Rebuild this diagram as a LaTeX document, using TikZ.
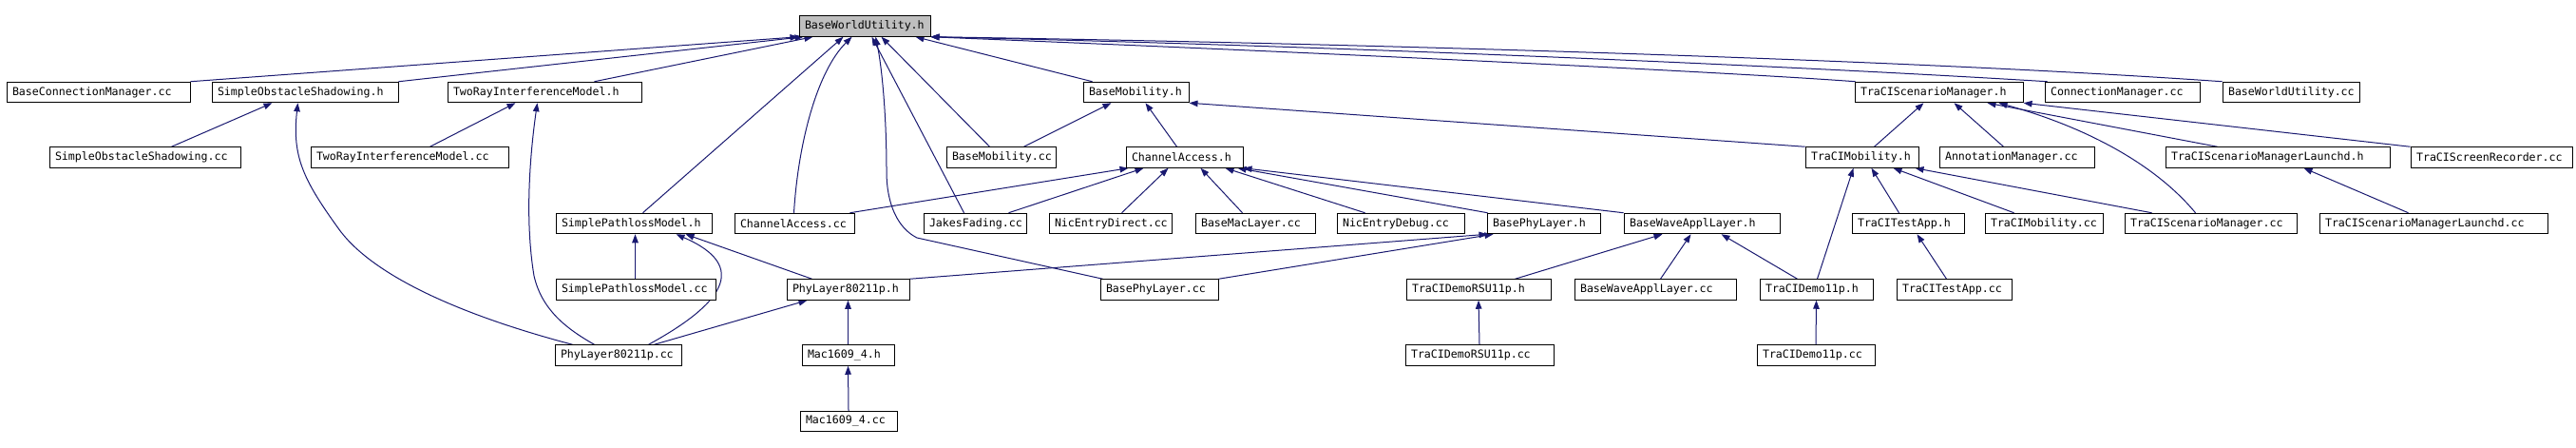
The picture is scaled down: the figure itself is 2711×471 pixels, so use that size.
\documentclass[tikz,border=0pt]{standalone}
\usepackage{fontspec}
\setmonofont{DejaVu Sans Mono}
\usetikzlibrary{arrows.meta,backgrounds}
\definecolor{edgecol}{HTML}{191970}
\definecolor{rootfill}{HTML}{BFBFBF}
\tikzset{
  fbox/.style={draw=black, line width=1pt, fill=white, minimum height=21.5pt,
    inner xsep=6pt, inner ysep=0pt, anchor=center,
    font=\ttfamily\fontsize{11.6}{13}\selectfont},
  dep/.style={draw=edgecol, line width=1pt, -{Triangle[length=9pt,width=6.5pt]}},
}
\newcommand\depbox[6]{%
  \pgfmathsetmacro\fbw{#4-#3}%
  \pgfmathsetmacro\fbx{(#3+#4)/2}%
  \pgfmathsetmacro\fbt{#4-#3-12}%
  \node[fbox,#1,minimum width=\fbw pt] (#2) at (\fbx,#5) {\makebox[\fbt pt][l]{#6}};}
\begin{document}
\begin{tikzpicture}[x=1pt,y=-1pt]
\useasboundingbox (0,0) rectangle (2711,471);
% row 1
\depbox{fill=rootfill}{root}{841}{979}{27.5}{BaseWorldUtility.h}
% row 2
\depbox{}{bcm}{7}{200}{97}{BaseConnectionManager.cc}
\depbox{}{sosh}{223}{419}{97}{SimpleObstacleShadowing.h}
\depbox{}{trimh}{471}{675}{97}{TwoRayInterferenceModel.h}
\depbox{}{bmh}{1140}{1251}{97}{BaseMobility.h}
\depbox{}{tsmh}{1952}{2129}{97}{TraCIScenarioManager.h}
\depbox{}{cmcc}{2152}{2315}{97}{ConnectionManager.cc}
\depbox{}{bwucc}{2339}{2483}{97}{BaseWorldUtility.cc}
% row 3
\depbox{}{soscc}{52}{253}{165.5}{SimpleObstacleShadowing.cc}
\depbox{}{trimcc}{327}{535}{165.5}{TwoRayInterferenceModel.cc}
\depbox{}{bmcc}{996}{1111}{165.5}{BaseMobility.cc}
\depbox{}{cah}{1185}{1308}{165.5}{ChannelAccess.h}
\depbox{}{tmh}{1900}{2019}{165.5}{TraCIMobility.h}
\depbox{}{amcc}{2041}{2204}{165.5}{AnnotationManager.cc}
\depbox{}{tsmlh}{2279}{2515}{165.5}{TraCIScenarioManagerLaunchd.h}
\depbox{}{tsrcc}{2537}{2707}{165.5}{TraCIScreenRecorder.cc}
% row 4
\depbox{}{splh}{585}{749}{235}{SimplePathlossModel.h}
\depbox{}{cacc}{773}{899}{235}{ChannelAccess.cc}
\depbox{}{jfcc}{972}{1080}{235}{JakesFading.cc}
\depbox{}{nedcc}{1104}{1233}{235}{NicEntryDirect.cc}
\depbox{}{bmlcc}{1258}{1384}{235}{BaseMacLayer.cc}
\depbox{}{nedbcc}{1407}{1541}{235}{NicEntryDebug.cc}
\depbox{}{bplh}{1565}{1684}{235}{BasePhyLayer.h}
\depbox{}{bwalh}{1709}{1873}{235}{BaseWaveApplLayer.h}
\depbox{}{ttah}{1949}{2067}{235}{TraCITestApp.h}
\depbox{}{tmcc}{2089}{2213}{235}{TraCIMobility.cc}
\depbox{}{tsmcc}{2236}{2417}{235}{TraCIScenarioManager.cc}
\depbox{}{tsmlcc}{2441}{2681}{235}{TraCIScenarioManagerLaunchd.cc}
% row 5
\depbox{}{splcc}{585}{753}{304.5}{SimplePathlossModel.cc}
\depbox{}{pl80h}{828}{957}{304.5}{PhyLayer80211p.h}
\depbox{}{bplcc}{1158}{1282}{304.5}{BasePhyLayer.cc}
\depbox{}{tdrsuh}{1480}{1632}{304.5}{TraCIDemoRSU11p.h}
\depbox{}{bwalcc}{1657}{1827}{304.5}{BaseWaveApplLayer.cc}
\depbox{}{tdh}{1852}{1971}{304.5}{TraCIDemo11p.h}
\depbox{}{ttacc}{1996}{2117}{304.5}{TraCITestApp.cc}
% row 6
\depbox{}{pl80cc}{584}{717}{373.5}{PhyLayer80211p.cc}
\depbox{}{mach}{844}{941}{373.5}{Mac1609\_4.h}
\depbox{}{tdrsucc}{1479}{1635}{373.5}{TraCIDemoRSU11p.cc}
\depbox{}{tdcc}{1849}{1973}{373.5}{TraCIDemo11p.cc}
% row 7
\depbox{}{maccc}{842}{944}{443}{Mac1609\_4.cc}

\begin{scope}[on background layer]
\fill[white] (0,0) rectangle (2711,471);
% into root
\draw[dep] (bcm.north east) -- (root.south west);
\draw[dep] (sosh.north east) -- ([xshift=5pt]root.south west);
\draw[dep] ([xshift=155pt]trimh.north west) -- ([xshift=15pt]root.south west);
\draw[dep] ([xshift=92pt]splh.north west) -- ([xshift=47pt]root.south west);
\draw[dep] ([xshift=63pt]cacc.north west) .. controls (840,150) and (860,75) .. ([xshift=56pt]root.south west);
\draw[dep] ([xshift=43pt]jfcc.north west) -- ([xshift=77pt]root.south west);
\draw[dep] ([xshift=3pt]bplcc.north west) -- (965,250) .. controls (945,240) and (933,215) .. (933,180) .. controls (933,120) and (928,70) .. ([xshift=81pt]root.south west);
\draw[dep] ([xshift=46pt]bmcc.north west) -- ([xshift=87pt]root.south west);
\draw[dep] ([xshift=10pt]bmh.north west) -- ([xshift=123pt]root.south west);
\draw[dep] ([xshift=1pt]tsmh.north west) .. controls (1850,78) and (1500,60) .. (root.south east);
\draw[dep] ([xshift=3pt]cmcc.north west) .. controls (1900,70) and (1400,48) .. (root.south east);
\draw[dep] (bwucc.north west) .. controls (2000,62) and (1400,45) .. (root.south east);
% into SimpleObstacleShadowing.h
\draw[dep] ([xshift=129pt]soscc.north west) -- ([xshift=64pt]sosh.south west);
\draw[dep] ([xshift=19pt]pl80cc.north west) .. controls (480,330) and (390,288) .. (356,240) .. controls (320,190) and (307,165) .. ([xshift=91pt]sosh.south west);
% into TwoRayInterferenceModel.h
\draw[dep] ([xshift=126pt]trimcc.north west) -- ([xshift=72pt]trimh.south west);
\draw[dep] ([xshift=42pt]pl80cc.north west) .. controls (595,345) and (570,325) .. (562,290) .. controls (552,230) and (558,160) .. ([xshift=95pt]trimh.south west);
% into BaseMobility.h
\draw[dep] ([xshift=82pt]bmcc.north west) -- ([xshift=30pt]bmh.south west);
\draw[dep] ([xshift=54pt]cah.north west) -- ([xshift=66pt]bmh.south west);
\draw[dep] (tmh.north west) -- (bmh.south east);
% into ChannelAccess.h
\draw[dep] ([xshift=122pt]cacc.north west) -- ([xshift=3pt]cah.south west);
\draw[dep] ([xshift=90pt]jfcc.north west) -- ([xshift=19pt]cah.south west);
\draw[dep] ([xshift=77pt]nedcc.north west) -- ([xshift=45pt]cah.south west);
\draw[dep] ([xshift=50pt]bmlcc.north west) -- ([xshift=79pt]cah.south west);
\draw[dep] ([xshift=30pt]nedbcc.north west) -- ([xshift=105pt]cah.south west);
\draw[dep] ([xshift=1pt]bplh.north west) -- ([xshift=118pt]cah.south west);
\draw[dep] (bwalh.north west) -- (cah.south east);
% into TraCIScenarioManager.h
\draw[dep] ([xshift=73pt]tmh.north west) -- ([xshift=73pt]tsmh.south west);
\draw[dep] ([xshift=68pt]amcc.north west) -- ([xshift=105pt]tsmh.south west);
\draw[dep] ([xshift=75pt]tsmcc.north west) .. controls (2270,175) and (2200,135) .. ([xshift=152pt]tsmh.south west);
\draw[dep] ([xshift=55pt]tsmlh.north west) -- ([xshift=140pt]tsmh.south west);
\draw[dep] (tsrcc.north west) -- (tsmh.south east);
\draw[dep] ([xshift=94pt]tsmlcc.north west) -- ([xshift=146pt]tsmlh.south west);
% into TraCIMobility.h
\draw[dep] ([xshift=61pt]tdh.north west) -- ([xshift=51pt]tmh.south west);
\draw[dep] ([xshift=50pt]ttah.north west) -- ([xshift=70pt]tmh.south west);
\draw[dep] ([xshift=31pt]tmcc.north west) -- ([xshift=93pt]tmh.south west);
\draw[dep] ([xshift=29pt]tsmcc.north west) -- ([xshift=116pt]tmh.south west);
\draw[dep] ([xshift=53pt]ttacc.north west) -- ([xshift=69pt]ttah.south west);
% into SimplePathlossModel.h
\draw[dep] ([xshift=84pt]splcc.north west) -- ([xshift=84pt]splh.south west);
\draw[dep] ([xshift=99pt]pl80cc.north west) .. controls (760,320) and (790,280) .. ([xshift=127pt]splh.south west);
\draw[dep] ([xshift=27pt]pl80h.north west) -- ([xshift=137pt]splh.south west);
% into PhyLayer80211p.h
\draw[dep] ([xshift=105pt]pl80cc.north west) -- ([xshift=22pt]pl80h.south west);
\draw[dep] (mach.north) -- (pl80h.south);
\draw[dep] (maccc.north) -- (mach.south);
% into BasePhyLayer.h
\draw[dep] (pl80h.north east) -- ([xshift=1pt]bplh.south west);
\draw[dep] (bplcc.north east) -- ([xshift=7pt]bplh.south west);
% into BaseWaveApplLayer.h
\draw[dep] ([xshift=115pt]tdrsuh.north west) -- ([xshift=41pt]bwalh.south west);
\draw[dep] ([xshift=91pt]bwalcc.north west) -- ([xshift=71pt]bwalh.south west);
\draw[dep] ([xshift=40pt]tdh.north west) -- ([xshift=103pt]bwalh.south west);
% vertical ones
\draw[dep] (tdrsucc.north) -- (tdrsuh.south);
\draw[dep] (tdcc.north) -- (tdh.south);
\end{scope}
\end{tikzpicture}
\end{document}
